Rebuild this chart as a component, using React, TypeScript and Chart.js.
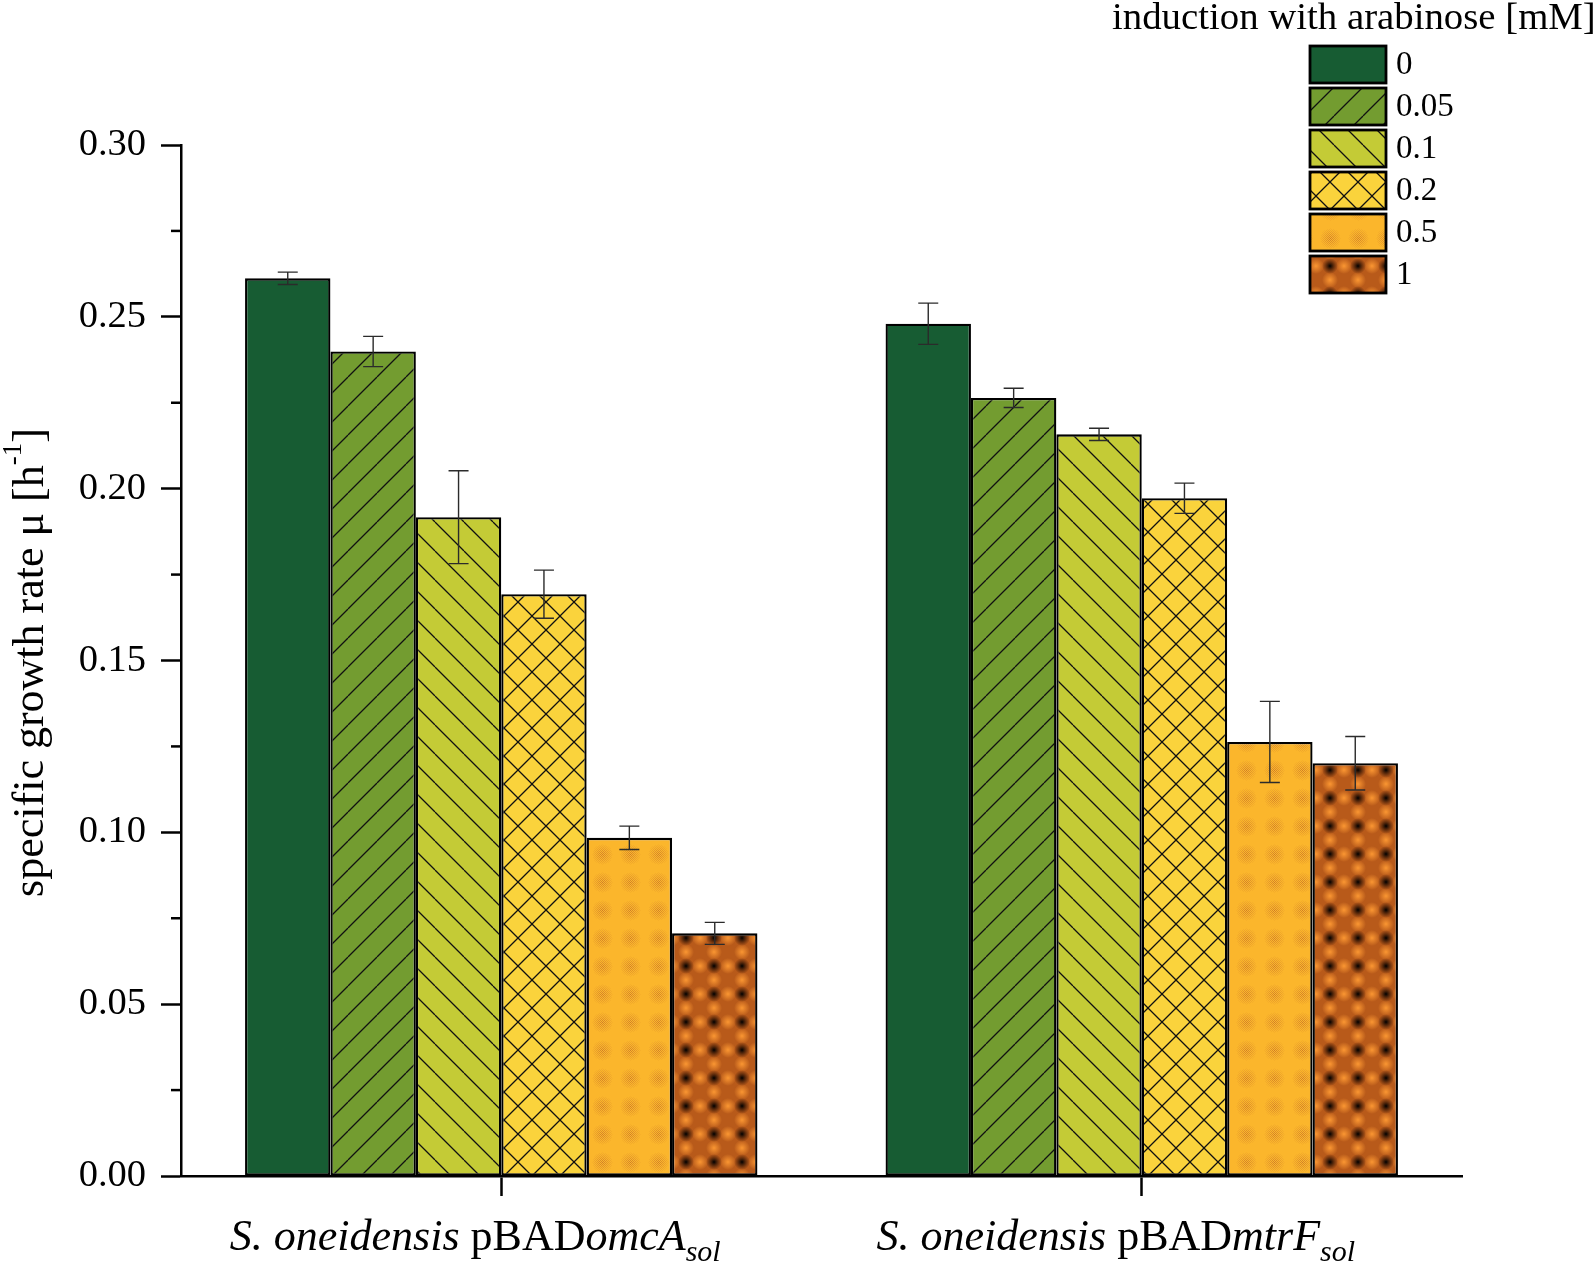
import React, { useEffect, useRef } from 'react';
import { Chart, registerables } from 'chart.js';

Chart.register(...registerables);

// ---------- data ----------
const concentrations = ['0', '0.05', '0.1', '0.2', '0.5', '1'];
const strainSpecies = ['S. oneidensis', 'S. oneidensis'];
const strainPlasmid = ['pBAD', 'pBAD'];
const strainGene = ['omcA', 'mtrF'];
const strainSuffix = ['sol', 'sol'];
const omcAMeans = [0.2612, 0.2399, 0.1917, 0.1693, 0.0984, 0.0706];
const omcAErrors = [0.0018, 0.0044, 0.0135, 0.0070, 0.0034, 0.0032];
const mtrFMeans = [0.2480, 0.2264, 0.2158, 0.1972, 0.1263, 0.1201];
const mtrFErrors = [0.0060, 0.0028, 0.0018, 0.0044, 0.0118, 0.0078];
const yTickStep = 0.05;
const yMax = 0.3;
const yTitle = 'specific growth rate \u03bc [h';
const yTitleSup = '-1';
const legendTitle = 'induction with arabinose [mM]';

const FONT = '"Liberation Serif", "Times New Roman", serif';
const fillColors = ['#175c33', '#739c30', '#c4cb36', '#fad33c', '#fbb62c', '#c0601c'];

function tile(size: number, draw: (g: CanvasRenderingContext2D, s: number) => void) {
  const c = document.createElement('canvas');
  c.width = size;
  c.height = size;
  const g = c.getContext('2d')!;
  draw(g, size);
  return c;
}

function makePatterns(ctx: CanvasRenderingContext2D): (CanvasPattern | string)[] {
  const S = 29;
  const lines = (g: CanvasRenderingContext2D, s: number, dir: number) => {
    g.strokeStyle = '#111';
    g.lineWidth = 1.3;
    g.beginPath();
    for (let k = -1; k <= 1; k++) {
      if (dir > 0) {
        g.moveTo(k * s, s);
        g.lineTo(k * s + s, 0);
      } else {
        g.moveTo(k * s, 0);
        g.lineTo(k * s + s, s);
      }
    }
    g.stroke();
  };
  const p1 = tile(S, (g, s) => {
    g.fillStyle = fillColors[1];
    g.fillRect(0, 0, s, s);
    lines(g, s, 1);
  });
  const p2 = tile(S, (g, s) => {
    g.fillStyle = fillColors[2];
    g.fillRect(0, 0, s, s);
    lines(g, s, -1);
  });
  const p3 = tile(28, (g, s) => {
    g.fillStyle = fillColors[3];
    g.fillRect(0, 0, s, s);
    lines(g, s, 1);
    lines(g, s, -1);
  });
  const p4 = tile(28, (g, s) => {
    g.fillStyle = fillColors[4];
    g.fillRect(0, 0, s, s);
    const c = s / 2;
    for (let y = 0; y < s; y++) {
      for (let x = 0; x < s; x++) {
        if ((x + y) % 2 !== 0) continue;
        const d = Math.hypot(x - c, y - c);
        if (d > 10) continue;
        g.fillStyle = `rgba(195,110,40,${0.8 * (1 - d / 11)})`;
        g.fillRect(x, y, 1, 1);
      }
    }
  });
  const p5 = tile(28, (g, s) => {
    g.fillStyle = '#b85a1a';
    g.fillRect(0, 0, s, s);
    const blob = (x: number, y: number, r: number, col: string, col0: string) => {
      const gr = g.createRadialGradient(x, y, 0, x, y, r);
      gr.addColorStop(0, col);
      gr.addColorStop(1, col0);
      g.fillStyle = gr;
      g.beginPath();
      g.arc(x, y, r, 0, Math.PI * 2);
      g.fill();
    };
    const c = s / 2;
    [[0, c], [s, c], [c, 0], [c, s]].forEach(([x, y]) =>
      blob(x, y, 8, 'rgba(250,150,50,1)', 'rgba(250,150,50,0)'));
    blob(c, c, 8, 'rgba(0,0,0,1)', 'rgba(40,10,0,0)');
  });
  return [
    fillColors[0],
    ctx.createPattern(p1, 'repeat')!,
    ctx.createPattern(p2, 'repeat')!,
    ctx.createPattern(p3, 'repeat')!,
    ctx.createPattern(p4, 'repeat')!,
    ctx.createPattern(p5, 'repeat')!,
  ];
}

export default function App() {
  const ref = useRef<HTMLCanvasElement>(null);

  useEffect(() => {
    const canvas = ref.current!;
    const ctx = canvas.getContext('2d')!;
    const fills = makePatterns(ctx);
    const errorsByDataset = concentrations.map((_, i) => [omcAErrors[i], mtrFErrors[i]]);

    const decorations = {
      id: 'decorations',
      afterDatasetsDraw(chart: any) {
        const c = chart.ctx;
        const ys = chart.scales.y;
        c.save();
        c.strokeStyle = '#2b2b2b';
        c.lineWidth = 1.4;
        chart.data.datasets.forEach((ds: any, i: number) => {
          const meta = chart.getDatasetMeta(i);
          meta.data.forEach((bar: any, j: number) => {
            const v = ds.data[j];
            const e = errorsByDataset[i][j];
            const x = bar.x;
            const t = ys.getPixelForValue(v + e);
            const b = ys.getPixelForValue(v - e);
            c.beginPath();
            c.moveTo(x, t);
            c.lineTo(x, b);
            c.moveTo(x - 10, t);
            c.lineTo(x + 10, t);
            c.moveTo(x - 10, b);
            c.lineTo(x + 10, b);
            c.stroke();
          });
        });
        c.restore();
      },
      afterDraw(chart: any) {
        const c = chart.ctx;
        const ys = chart.scales.y;
        const xs = chart.scales.x;
        const area = chart.chartArea;
        c.save();
        // minor y ticks
        c.strokeStyle = '#000';
        c.lineWidth = 2.5;
        for (let v = yTickStep / 2; v < yMax; v += yTickStep) {
          const y = ys.getPixelForValue(v);
          c.beginPath();
          c.moveTo(area.left - 10, y);
          c.lineTo(area.left, y);
          c.stroke();
        }
        // y title
        const titleSize = 44;
        c.save();
        c.translate(31, (area.top + area.bottom) / 2 + 2);
        c.rotate(-Math.PI / 2);
        c.fillStyle = '#000';
        c.textBaseline = 'middle';
        c.font = `${titleSize}px ${FONT}`;
        const supFont = `${Math.round(titleSize * 0.62)}px ${FONT}`;
        const w1 = c.measureText(yTitle).width;
        c.font = supFont;
        const w2 = c.measureText(yTitleSup).width;
        c.font = `${titleSize}px ${FONT}`;
        const w3 = c.measureText(']').width;
        const x0 = -(w1 + w2 + w3) / 2;
        c.textAlign = 'left';
        c.fillText(yTitle, x0, 0);
        c.font = supFont;
        c.fillText(yTitleSup, x0 + w1, -titleSize * 0.38);
        c.font = `${titleSize}px ${FONT}`;
        c.fillText(']', x0 + w1 + w2, 0);
        c.restore();

        // x labels
        const mainSize = 44;
        const subSize = 30;
        strainGene.forEach((gene, i) => {
          const parts = [
            { t: strainSpecies[i], f: `italic ${mainSize}px ${FONT}`, dy: 0 },
            { t: ' ' + strainPlasmid[i], f: `${mainSize}px ${FONT}`, dy: 0 },
            { t: gene, f: `italic ${mainSize}px ${FONT}`, dy: 0 },
            { t: strainSuffix[i], f: `italic ${subSize}px ${FONT}`, dy: 11 },
          ];
          let total = 0;
          const widths = parts.map((p) => {
            c.font = p.f;
            const w = c.measureText(p.t).width;
            total += w;
            return w;
          });
          let x = xs.getPixelForValue(i) - total / 2 - 26;
          c.textAlign = 'left';
          c.textBaseline = 'alphabetic';
          c.fillStyle = '#000';
          parts.forEach((p, k) => {
            c.font = p.f;
            c.fillText(p.t, x, 1250 + p.dy);
            x += widths[k];
          });
        });

        // legend
        c.font = `38.8px ${FONT}`;
        c.textAlign = 'left';
        c.textBaseline = 'alphabetic';
        c.fillStyle = '#000';
        c.fillText(legendTitle, 1112, 29);
        const bx = 1310;
        const bw = 76;
        const bh = 37;
        concentrations.forEach((lab, i) => {
          const by = 46 + i * 42;
          c.fillStyle = fills[i] as any;
          c.fillRect(bx, by, bw, bh);
          c.strokeStyle = '#000';
          c.lineWidth = 2.8;
          c.strokeRect(bx, by, bw, bh);
          c.fillStyle = '#000';
          c.font = `33px ${FONT}`;
          c.textBaseline = 'middle';
          c.fillText(lab, 1396, by + bh / 2 + 1);
        });
        c.restore();
      },
    };

    const chart = new Chart(canvas, {
      type: 'bar',
      data: {
        labels: strainGene.map((g, i) => `${strainSpecies[i]} ${strainPlasmid[i]}${g}${strainSuffix[i]}`),
        datasets: concentrations.map((conc, i) => ({
          label: conc,
          data: [omcAMeans[i], mtrFMeans[i]],
          backgroundColor: fills[i] as any,
          borderColor: '#000',
          borderWidth: 2.3,
          borderSkipped: false,
          categoryPercentage: 0.8,
          barPercentage: 1.0,
        })),
      },
      options: {
        responsive: false,
        animation: false,
        devicePixelRatio: 1,
        layout: { padding: { top: 145, right: 133, left: 0, bottom: 0 } },
        plugins: {
          legend: { display: false },
          tooltip: { enabled: false },
          title: { display: false },
        },
        scales: {
          x: {
            offset: true,
            afterFit: (s: any) => {
              s.height = 87;
            },
            grid: {
              offset: false,
              drawOnChartArea: false,
              drawTicks: true,
              tickLength: 20,
              tickWidth: 2.5,
              tickColor: '#000',
            },
            border: { display: true, color: '#000', width: 2.5 },
            ticks: { display: false },
          },
          y: {
            min: 0,
            max: yMax,
            afterFit: (s: any) => {
              s.width = 181;
            },
            ticks: {
              stepSize: yTickStep,
              padding: 15,
              color: '#000',
              font: { family: FONT, size: 38.5 },
              callback: (v: any) => Number(v).toFixed(2),
            },
            grid: {
              drawOnChartArea: false,
              drawTicks: true,
              tickLength: 20,
              tickWidth: 2.5,
              tickColor: '#000',
            },
            border: { display: true, color: '#000', width: 2.5 },
          },
        },
      },
      plugins: [decorations],
    });
    return () => chart.destroy();
  }, []);

  return (
    <div style={{ position: 'absolute', left: 0, top: 0, width: 1595, height: 1263, background: '#fff' }}>
      <canvas ref={ref} width={1595} height={1263} style={{ display: 'block' }} />
    </div>
  );
}
